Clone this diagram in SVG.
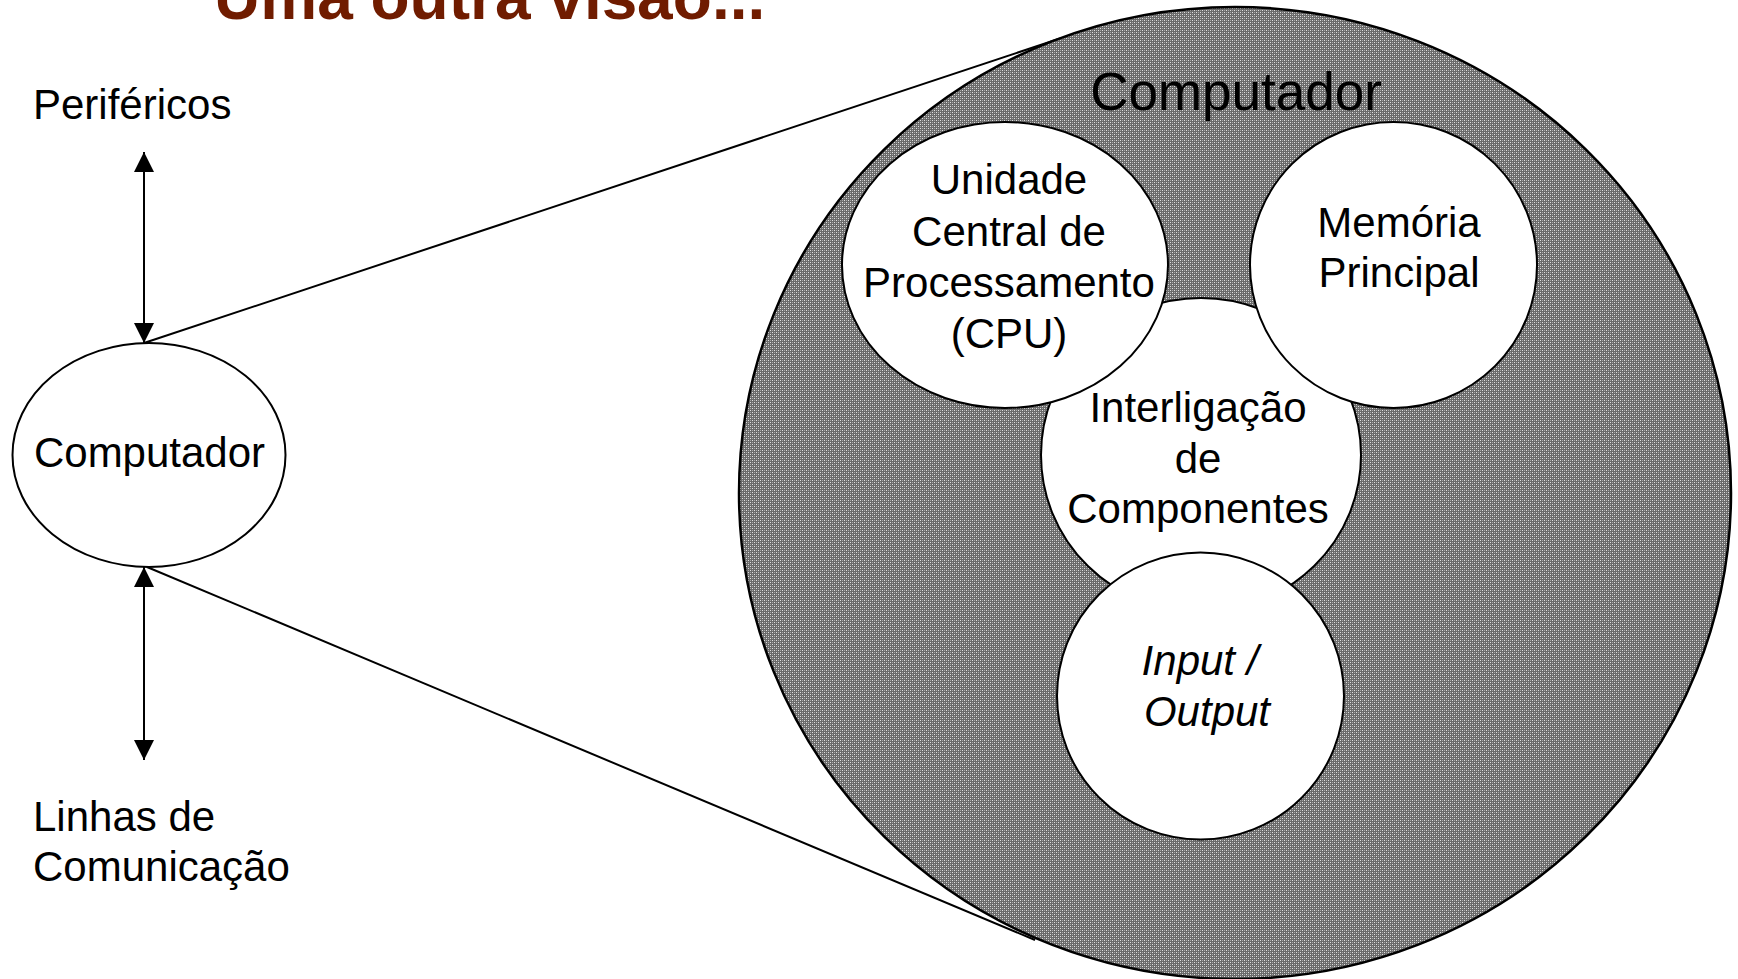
<svg xmlns="http://www.w3.org/2000/svg" width="1738" height="979" viewBox="0 0 1738 979">
  <style>
    text { font-family: "Liberation Sans", Arial, sans-serif; fill: #000; }
    .lbl { font-size: 42px; }
    .mid { text-anchor: middle; }
    .part { fill: #fff; stroke: #000; stroke-width: 2; }
    .link { stroke: #000; stroke-width: 2; fill: none; }
    .title { font-size: 64px; font-weight: bold; fill: #701c00; }
  </style>
  <defs>
    <!-- fine dithered grey fill for the computer body -->
    <pattern id="dither" width="4" height="4" patternUnits="userSpaceOnUse">
      <rect width="4" height="4" fill="#6a6a6a"/>
      <rect x="0" y="0" width="1" height="1" fill="#e0e0e0"/>
      <rect x="2" y="2" width="1" height="1" fill="#e0e0e0"/>
      <rect x="2" y="0" width="1" height="1" fill="#a8a8a8"/>
      <rect x="0" y="2" width="1" height="1" fill="#a8a8a8"/>
    </pattern>
    <marker id="head" viewBox="0 0 20 20" refX="20" refY="10" markerWidth="20" markerHeight="20" markerUnits="userSpaceOnUse" orient="auto-start-reverse">
      <path d="M0,0 L20,10 L0,20 Z" fill="#000"/>
    </marker>
  </defs>

  <text class="title" x="214" y="19">Uma outra visão...</text>

  <!-- zoom lines and double arrows -->
  <g id="connectors">
    <line class="link" x1="144" y1="343" x2="1060" y2="38.5"/>
    <line class="link" x1="147" y1="567" x2="1035" y2="940"/>
    <line class="link" x1="144" y1="152" x2="144" y2="343" marker-start="url(#head)" marker-end="url(#head)"/>
    <line class="link" x1="144" y1="567" x2="144" y2="760" marker-start="url(#head)" marker-end="url(#head)"/>
  </g>

  <g id="perifericos">
    <text class="lbl" x="33" y="119">Periféricos</text>
  </g>

  <g id="linhas">
    <text class="lbl" x="33" y="831">Linhas de</text>
    <text class="lbl" x="33" y="881">Comunicação</text>
  </g>

  <g id="computador-simples">
    <ellipse cx="149" cy="455" rx="136.5" ry="112" fill="#fff" stroke="#000" stroke-width="2"/>
    <text class="lbl mid" x="149.5" y="467">Computador</text>
  </g>

  <g id="computador">
    <ellipse cx="1235" cy="493" rx="496" ry="486" fill="url(#dither)" stroke="#000" stroke-width="2.5"/>
    <text class="mid" x="1236" y="110" font-size="53">Computador</text>
  </g>

  <g id="interligacao">
    <ellipse class="part" cx="1201" cy="455" rx="160" ry="157"/>
    <text class="lbl mid" x="1198" y="422">Interligação</text>
    <text class="lbl mid" x="1198" y="473">de</text>
    <text class="lbl mid" x="1198" y="523">Componentes</text>
  </g>

  <g id="cpu">
    <ellipse class="part" cx="1005" cy="265" rx="163" ry="143"/>
    <text class="lbl mid" x="1009" y="194">Unidade</text>
    <text class="lbl mid" x="1009" y="246">Central de</text>
    <text class="lbl mid" x="1009" y="297">Processamento</text>
    <text class="lbl mid" x="1009" y="348">(CPU)</text>
  </g>

  <g id="memoria">
    <ellipse class="part" cx="1393.5" cy="265" rx="143.5" ry="143"/>
    <text class="lbl mid" x="1399" y="237">Memória</text>
    <text class="lbl mid" x="1399" y="287">Principal</text>
  </g>

  <g id="io">
    <ellipse class="part" cx="1200.5" cy="696" rx="143.5" ry="143.5"/>
    <text class="lbl mid" x="1200" y="675" font-style="italic">Input /</text>
    <text class="lbl mid" x="1207" y="726" font-style="italic">Output</text>
  </g>
</svg>
